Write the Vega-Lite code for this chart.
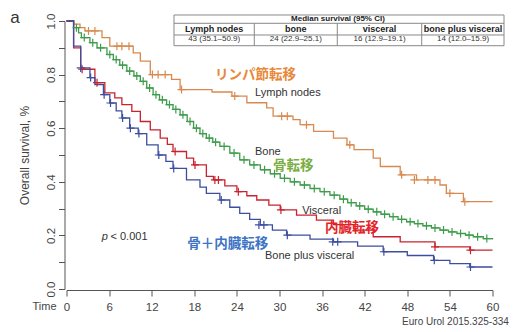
{
  "$schema": "https://vega.github.io/schema/vega-lite/v6.json",
  "width": 426,
  "height": 268,
  "autosize": {"type": "none"},
  "padding": {"left": 66.5, "top": 21, "right": 20.5, "bottom": 43},
  "background": "white",
  "config": {"view": {"stroke": null}, "font": "Liberation Sans"},
  "datasets": {
    "curves": [
      {"group": "Lymph nodes", "t": 0, "v": 1.0}, {"group": "Lymph nodes", "t": 1, "v": 0.988}, {"group": "Lymph nodes", "t": 1.9, "v": 0.975}, {"group": "Lymph nodes", "t": 2.6, "v": 0.963}, {"group": "Lymph nodes", "t": 5, "v": 0.938}, {"group": "Lymph nodes", "t": 6.1, "v": 0.906}, {"group": "Lymph nodes", "t": 9.4, "v": 0.881}, {"group": "Lymph nodes", "t": 10.4, "v": 0.85}, {"group": "Lymph nodes", "t": 11.8, "v": 0.8}, {"group": "Lymph nodes", "t": 14.8, "v": 0.782}, {"group": "Lymph nodes", "t": 16, "v": 0.744}, {"group": "Lymph nodes", "t": 20.5, "v": 0.735}, {"group": "Lymph nodes", "t": 23.3, "v": 0.72}, {"group": "Lymph nodes", "t": 25.4, "v": 0.695}, {"group": "Lymph nodes", "t": 28.2, "v": 0.676}, {"group": "Lymph nodes", "t": 29.1, "v": 0.645}, {"group": "Lymph nodes", "t": 31.9, "v": 0.632}, {"group": "Lymph nodes", "t": 32.9, "v": 0.613}, {"group": "Lymph nodes", "t": 34.8, "v": 0.588}, {"group": "Lymph nodes", "t": 37.6, "v": 0.563}, {"group": "Lymph nodes", "t": 39.5, "v": 0.538}, {"group": "Lymph nodes", "t": 40.5, "v": 0.52}, {"group": "Lymph nodes", "t": 43.2, "v": 0.488}, {"group": "Lymph nodes", "t": 44.2, "v": 0.457}, {"group": "Lymph nodes", "t": 47, "v": 0.426}, {"group": "Lymph nodes", "t": 49.3, "v": 0.407}, {"group": "Lymph nodes", "t": 52.6, "v": 0.388}, {"group": "Lymph nodes", "t": 53.5, "v": 0.357}, {"group": "Lymph nodes", "t": 55.9, "v": 0.326}, {"group": "Lymph nodes", "t": 60, "v": 0.326},
      {"group": "Bone", "t": 0, "v": 1.0}, {"group": "Bone", "t": 1, "v": 0.975}, {"group": "Bone", "t": 1.7, "v": 0.956}, {"group": "Bone", "t": 2.1, "v": 0.938}, {"group": "Bone", "t": 3.3, "v": 0.919}, {"group": "Bone", "t": 4.3, "v": 0.9}, {"group": "Bone", "t": 5.7, "v": 0.875}, {"group": "Bone", "t": 6.6, "v": 0.856}, {"group": "Bone", "t": 7.5, "v": 0.835}, {"group": "Bone", "t": 8.5, "v": 0.813}, {"group": "Bone", "t": 9.5, "v": 0.795}, {"group": "Bone", "t": 10.4, "v": 0.775}, {"group": "Bone", "t": 11.3, "v": 0.75}, {"group": "Bone", "t": 12.2, "v": 0.725}, {"group": "Bone", "t": 13.1, "v": 0.706}, {"group": "Bone", "t": 14.1, "v": 0.688}, {"group": "Bone", "t": 15, "v": 0.67}, {"group": "Bone", "t": 16, "v": 0.65}, {"group": "Bone", "t": 17, "v": 0.625}, {"group": "Bone", "t": 17.9, "v": 0.6}, {"group": "Bone", "t": 18.8, "v": 0.58}, {"group": "Bone", "t": 19.7, "v": 0.563}, {"group": "Bone", "t": 20.6, "v": 0.548}, {"group": "Bone", "t": 21.6, "v": 0.532}, {"group": "Bone", "t": 23, "v": 0.507}, {"group": "Bone", "t": 24.4, "v": 0.482}, {"group": "Bone", "t": 25.8, "v": 0.463}, {"group": "Bone", "t": 27.3, "v": 0.445}, {"group": "Bone", "t": 28.7, "v": 0.43}, {"group": "Bone", "t": 30.1, "v": 0.413}, {"group": "Bone", "t": 31.5, "v": 0.4}, {"group": "Bone", "t": 32.9, "v": 0.388}, {"group": "Bone", "t": 34.3, "v": 0.375}, {"group": "Bone", "t": 35.7, "v": 0.363}, {"group": "Bone", "t": 37.1, "v": 0.35}, {"group": "Bone", "t": 38.5, "v": 0.335}, {"group": "Bone", "t": 39.6, "v": 0.322}, {"group": "Bone", "t": 40.8, "v": 0.31}, {"group": "Bone", "t": 42, "v": 0.298}, {"group": "Bone", "t": 43.2, "v": 0.288}, {"group": "Bone", "t": 44.3, "v": 0.279}, {"group": "Bone", "t": 45.5, "v": 0.27}, {"group": "Bone", "t": 46.7, "v": 0.26}, {"group": "Bone", "t": 47.9, "v": 0.251}, {"group": "Bone", "t": 49, "v": 0.244}, {"group": "Bone", "t": 50.2, "v": 0.236}, {"group": "Bone", "t": 51.4, "v": 0.228}, {"group": "Bone", "t": 52.6, "v": 0.22}, {"group": "Bone", "t": 53.8, "v": 0.213}, {"group": "Bone", "t": 55, "v": 0.207}, {"group": "Bone", "t": 56.2, "v": 0.201}, {"group": "Bone", "t": 57.3, "v": 0.195}, {"group": "Bone", "t": 58.7, "v": 0.188}, {"group": "Bone", "t": 60, "v": 0.185},
      {"group": "Visceral", "t": 0, "v": 1.0}, {"group": "Visceral", "t": 1, "v": 0.9}, {"group": "Visceral", "t": 2, "v": 0.82}, {"group": "Visceral", "t": 4, "v": 0.77}, {"group": "Visceral", "t": 5.4, "v": 0.732}, {"group": "Visceral", "t": 6.8, "v": 0.713}, {"group": "Visceral", "t": 7.8, "v": 0.688}, {"group": "Visceral", "t": 9.2, "v": 0.663}, {"group": "Visceral", "t": 10.4, "v": 0.625}, {"group": "Visceral", "t": 11.8, "v": 0.594}, {"group": "Visceral", "t": 13.2, "v": 0.563}, {"group": "Visceral", "t": 14.2, "v": 0.54}, {"group": "Visceral", "t": 15, "v": 0.513}, {"group": "Visceral", "t": 16.9, "v": 0.488}, {"group": "Visceral", "t": 17.9, "v": 0.463}, {"group": "Visceral", "t": 19.7, "v": 0.42}, {"group": "Visceral", "t": 20.7, "v": 0.407}, {"group": "Visceral", "t": 22.3, "v": 0.385}, {"group": "Visceral", "t": 24, "v": 0.363}, {"group": "Visceral", "t": 25.4, "v": 0.348}, {"group": "Visceral", "t": 26.8, "v": 0.332}, {"group": "Visceral", "t": 28.5, "v": 0.313}, {"group": "Visceral", "t": 30.1, "v": 0.295}, {"group": "Visceral", "t": 32.4, "v": 0.276}, {"group": "Visceral", "t": 35.2, "v": 0.257}, {"group": "Visceral", "t": 37.6, "v": 0.24}, {"group": "Visceral", "t": 40.5, "v": 0.22}, {"group": "Visceral", "t": 43.2, "v": 0.195}, {"group": "Visceral", "t": 47, "v": 0.176}, {"group": "Visceral", "t": 51.9, "v": 0.157}, {"group": "Visceral", "t": 56.8, "v": 0.145}, {"group": "Visceral", "t": 60, "v": 0.145},
      {"group": "Bone plus visceral", "t": 0, "v": 1.0}, {"group": "Bone plus visceral", "t": 1, "v": 0.906}, {"group": "Bone plus visceral", "t": 2, "v": 0.825}, {"group": "Bone plus visceral", "t": 3.3, "v": 0.789}, {"group": "Bone plus visceral", "t": 4, "v": 0.763}, {"group": "Bone plus visceral", "t": 5.2, "v": 0.725}, {"group": "Bone plus visceral", "t": 6.1, "v": 0.694}, {"group": "Bone plus visceral", "t": 7, "v": 0.665}, {"group": "Bone plus visceral", "t": 7.8, "v": 0.638}, {"group": "Bone plus visceral", "t": 8.9, "v": 0.6}, {"group": "Bone plus visceral", "t": 10.1, "v": 0.58}, {"group": "Bone plus visceral", "t": 11.3, "v": 0.538}, {"group": "Bone plus visceral", "t": 12.9, "v": 0.5}, {"group": "Bone plus visceral", "t": 14, "v": 0.476}, {"group": "Bone plus visceral", "t": 15, "v": 0.45}, {"group": "Bone plus visceral", "t": 16.9, "v": 0.407}, {"group": "Bone plus visceral", "t": 18.8, "v": 0.38}, {"group": "Bone plus visceral", "t": 19.7, "v": 0.357}, {"group": "Bone plus visceral", "t": 21.6, "v": 0.332}, {"group": "Bone plus visceral", "t": 23, "v": 0.305}, {"group": "Bone plus visceral", "t": 24.4, "v": 0.282}, {"group": "Bone plus visceral", "t": 25.8, "v": 0.26}, {"group": "Bone plus visceral", "t": 27.3, "v": 0.239}, {"group": "Bone plus visceral", "t": 29, "v": 0.22}, {"group": "Bone plus visceral", "t": 31, "v": 0.201}, {"group": "Bone plus visceral", "t": 34.3, "v": 0.186}, {"group": "Bone plus visceral", "t": 37.6, "v": 0.176}, {"group": "Bone plus visceral", "t": 41, "v": 0.16}, {"group": "Bone plus visceral", "t": 44.6, "v": 0.139}, {"group": "Bone plus visceral", "t": 48, "v": 0.125}, {"group": "Bone plus visceral", "t": 51.7, "v": 0.107}, {"group": "Bone plus visceral", "t": 54, "v": 0.095}, {"group": "Bone plus visceral", "t": 56.8, "v": 0.082}, {"group": "Bone plus visceral", "t": 60, "v": 0.082}
    ],
    "censor": [
      {"group": "Lymph nodes", "t": 3.1, "v": 0.963}, {"group": "Lymph nodes", "t": 4, "v": 0.963}, {"group": "Lymph nodes", "t": 7.1, "v": 0.906}, {"group": "Lymph nodes", "t": 7.8, "v": 0.906}, {"group": "Lymph nodes", "t": 8.8, "v": 0.906}, {"group": "Lymph nodes", "t": 12.1, "v": 0.8}, {"group": "Lymph nodes", "t": 12.9, "v": 0.8}, {"group": "Lymph nodes", "t": 13.9, "v": 0.8}, {"group": "Lymph nodes", "t": 16.2, "v": 0.744}, {"group": "Lymph nodes", "t": 23.7, "v": 0.72}, {"group": "Lymph nodes", "t": 30.3, "v": 0.645}, {"group": "Lymph nodes", "t": 31.1, "v": 0.645}, {"group": "Lymph nodes", "t": 33.8, "v": 0.613}, {"group": "Lymph nodes", "t": 39.9, "v": 0.538}, {"group": "Lymph nodes", "t": 47.2, "v": 0.426}, {"group": "Lymph nodes", "t": 49.0, "v": 0.407}, {"group": "Lymph nodes", "t": 50.9, "v": 0.407}, {"group": "Lymph nodes", "t": 51.9, "v": 0.407}, {"group": "Lymph nodes", "t": 54, "v": 0.357}, {"group": "Lymph nodes", "t": 56.1, "v": 0.326},
      {"group": "Bone", "t": 1.4, "v": 0.975}, {"group": "Bone", "t": 2.5, "v": 0.938}, {"group": "Bone", "t": 3.7, "v": 0.919}, {"group": "Bone", "t": 4.8, "v": 0.9}, {"group": "Bone", "t": 6.1, "v": 0.875}, {"group": "Bone", "t": 7.0, "v": 0.856}, {"group": "Bone", "t": 7.9, "v": 0.835}, {"group": "Bone", "t": 8.9, "v": 0.813}, {"group": "Bone", "t": 9.9, "v": 0.795}, {"group": "Bone", "t": 10.8, "v": 0.775}, {"group": "Bone", "t": 11.7, "v": 0.75}, {"group": "Bone", "t": 12.6, "v": 0.725}, {"group": "Bone", "t": 13.5, "v": 0.706}, {"group": "Bone", "t": 14.5, "v": 0.688}, {"group": "Bone", "t": 15.4, "v": 0.67}, {"group": "Bone", "t": 16.4, "v": 0.65}, {"group": "Bone", "t": 17.4, "v": 0.625}, {"group": "Bone", "t": 18.3, "v": 0.6}, {"group": "Bone", "t": 19.2, "v": 0.58}, {"group": "Bone", "t": 20.1, "v": 0.563}, {"group": "Bone", "t": 21.0, "v": 0.548}, {"group": "Bone", "t": 22.2, "v": 0.532}, {"group": "Bone", "t": 23.6, "v": 0.507}, {"group": "Bone", "t": 25.0, "v": 0.482}, {"group": "Bone", "t": 26.4, "v": 0.463}, {"group": "Bone", "t": 27.9, "v": 0.445}, {"group": "Bone", "t": 29.3, "v": 0.43}, {"group": "Bone", "t": 30.7, "v": 0.413}, {"group": "Bone", "t": 32.1, "v": 0.4}, {"group": "Bone", "t": 33.5, "v": 0.388}, {"group": "Bone", "t": 34.9, "v": 0.375}, {"group": "Bone", "t": 36.3, "v": 0.363}, {"group": "Bone", "t": 37.7, "v": 0.35}, {"group": "Bone", "t": 39.0, "v": 0.335}, {"group": "Bone", "t": 40.1, "v": 0.322}, {"group": "Bone", "t": 41.3, "v": 0.31}, {"group": "Bone", "t": 42.5, "v": 0.298}, {"group": "Bone", "t": 43.7, "v": 0.288}, {"group": "Bone", "t": 44.8, "v": 0.279}, {"group": "Bone", "t": 46.0, "v": 0.27}, {"group": "Bone", "t": 47.2, "v": 0.26}, {"group": "Bone", "t": 48.4, "v": 0.251}, {"group": "Bone", "t": 49.5, "v": 0.244}, {"group": "Bone", "t": 50.7, "v": 0.236}, {"group": "Bone", "t": 51.9, "v": 0.228}, {"group": "Bone", "t": 53.1, "v": 0.22}, {"group": "Bone", "t": 54.3, "v": 0.213}, {"group": "Bone", "t": 55.5, "v": 0.207}, {"group": "Bone", "t": 56.7, "v": 0.201}, {"group": "Bone", "t": 57.9, "v": 0.195}, {"group": "Bone", "t": 59.2, "v": 0.188},
      {"group": "Visceral", "t": 2.2, "v": 0.82}, {"group": "Visceral", "t": 4.3, "v": 0.77}, {"group": "Visceral", "t": 15.3, "v": 0.513}, {"group": "Visceral", "t": 18.1, "v": 0.463}, {"group": "Visceral", "t": 20.9, "v": 0.407}, {"group": "Visceral", "t": 21.4, "v": 0.407}, {"group": "Visceral", "t": 24.2, "v": 0.363}, {"group": "Visceral", "t": 30.2, "v": 0.295}, {"group": "Visceral", "t": 51.9, "v": 0.157}, {"group": "Visceral", "t": 56.9, "v": 0.145},
      {"group": "Bone plus visceral", "t": 2, "v": 0.825}, {"group": "Bone plus visceral", "t": 3.4, "v": 0.789}, {"group": "Bone plus visceral", "t": 5.3, "v": 0.725}, {"group": "Bone plus visceral", "t": 6.2, "v": 0.694}, {"group": "Bone plus visceral", "t": 7.9, "v": 0.638}, {"group": "Bone plus visceral", "t": 9.0, "v": 0.6}, {"group": "Bone plus visceral", "t": 10.2, "v": 0.58}, {"group": "Bone plus visceral", "t": 13.0, "v": 0.5}, {"group": "Bone plus visceral", "t": 15.1, "v": 0.45}, {"group": "Bone plus visceral", "t": 21.8, "v": 0.332}, {"group": "Bone plus visceral", "t": 27.1, "v": 0.239}, {"group": "Bone plus visceral", "t": 27.8, "v": 0.239}, {"group": "Bone plus visceral", "t": 31.1, "v": 0.201}, {"group": "Bone plus visceral", "t": 37.5, "v": 0.176}, {"group": "Bone plus visceral", "t": 38.2, "v": 0.176}, {"group": "Bone plus visceral", "t": 44.7, "v": 0.139}, {"group": "Bone plus visceral", "t": 51.8, "v": 0.107}, {"group": "Bone plus visceral", "t": 56.9, "v": 0.082}
    ],
    "jp": [
      {"group": "Lymph nodes", "label": "リンパ節転移", "t": 20.9, "v": 0.8},
      {"group": "Bone", "label": "骨転移", "t": 29.1, "v": 0.459},
      {"group": "Visceral", "label": "内臓転移", "t": 36.4, "v": 0.226},
      {"group": "Bone plus visceral", "label": "骨＋内臓転移", "t": 17.0, "v": 0.168}
    ],
    "en": [
      {"label": "Lymph nodes", "t": 26.55, "v": 0.733},
      {"label": "Bone", "t": 26.55, "v": 0.513},
      {"label": "Visceral", "t": 33.2, "v": 0.291},
      {"label": "Bone plus visceral", "t": 27.96, "v": 0.123}
    ],
    "tablebox": [{"t1": 15.14, "t2": 61.62, "v1": 1.0224, "v2": 0.9078}],
    "tablelines": [
      {"t1": 15.14, "t2": 61.62, "v1": 0.9914, "v2": 0.9914},
      {"t1": 15.14, "t2": 61.62, "v1": 0.9478, "v2": 0.9478},
      {"t1": 26.45, "t2": 26.45, "v1": 0.9914, "v2": 0.9078},
      {"t1": 38.14, "t2": 38.14, "v1": 0.9914, "v2": 0.9078},
      {"t1": 50.03, "t2": 50.03, "v1": 0.9914, "v2": 0.9078}
    ],
    "tabletitle": [{"label": "Median survival (95% CI)", "t": 38.23, "v": 1.0063}],
    "tablehead": [
      {"label": "Lymph nodes", "t": 20.8, "v": 0.9701},
      {"label": "bone", "t": 32.3, "v": 0.9701},
      {"label": "visceral", "t": 44.1, "v": 0.9701},
      {"label": "bone plus visceral", "t": 55.85, "v": 0.9701}
    ],
    "tablevals": [
      {"label": "43 (35.1–50.9)", "t": 20.8, "v": 0.9317},
      {"label": "24 (22.9–25.1)", "t": 32.3, "v": 0.9317},
      {"label": "16 (12.9–19.1)", "t": 44.1, "v": 0.9317},
      {"label": "14 (12.0–15.9)", "t": 55.85, "v": 0.9317}
    ]
  },
  "encoding": {
    "x": {"field": "t", "type": "quantitative", "scale": {"domain": [0, 60], "nice": false, "zero": false},
      "axis": {"values": [0, 6, 12, 18, 24, 30, 36, 42, 48, 54, 60], "title": null, "grid": false, "domainColor": "#555", "tickColor": "#555", "tickSize": 6, "labelPadding": 5, "labelFontSize": 11.5, "labelColor": "#444", "labelFont": "Liberation Sans", "offset": 1, "labelFlush": false}},
    "y": {"field": "v", "type": "quantitative", "scale": {"domain": [0, 1], "nice": false, "zero": false},
      "axis": {"values": [0, 0.1, 0.2, 0.3, 0.4, 0.5, 0.6, 0.7, 0.8, 0.9, 1.0], "labelExpr": "round(datum.value*10)%2==0 ? format(datum.value,'.1f') : ''", "title": "Overall survival, %", "titleFontSize": 12, "titleFontWeight": "normal", "titleColor": "#444", "titleFont": "Liberation Sans", "titlePadding": 14, "grid": false, "domainColor": "#555", "tickColor": "#555", "tickSize": 6, "labelAngle": -90, "labelAlign": "center", "labelBaseline": "bottom", "labelPadding": 2, "labelFontSize": 11.5, "labelColor": "#444", "offset": 2, "labelFlush": false}}
  },
  "layer": [
    {"data": {"name": "tablebox"}, "mark": {"type": "rect", "fill": "white", "stroke": "#888", "strokeWidth": 1},
      "encoding": {"x": {"field": "t1", "type": "quantitative"}, "x2": {"field": "t2"}, "y": {"field": "v1", "type": "quantitative"}, "y2": {"field": "v2"}}},
    {"data": {"name": "tablelines"}, "mark": {"type": "rule", "stroke": "#888", "strokeWidth": 1},
      "encoding": {"x": {"field": "t1", "type": "quantitative"}, "x2": {"field": "t2"}, "y": {"field": "v1", "type": "quantitative"}, "y2": {"field": "v2"}}},
    {"data": {"name": "tabletitle"}, "mark": {"type": "text", "fontSize": 8, "fontWeight": "bold", "color": "#222", "align": "center", "baseline": "middle", "font": "Liberation Sans"},
      "encoding": {"text": {"field": "label"}}},
    {"data": {"name": "tablehead"}, "mark": {"type": "text", "fontSize": 9, "fontWeight": "bold", "color": "#222", "align": "center", "baseline": "middle", "font": "Liberation Sans"},
      "encoding": {"text": {"field": "label"}}},
    {"data": {"name": "tablevals"}, "mark": {"type": "text", "fontSize": 8, "color": "#333", "align": "center", "baseline": "middle", "font": "Liberation Sans"},
      "encoding": {"text": {"field": "label"}}},
    {"data": {"name": "curves"}, "mark": {"type": "line", "interpolate": "step-after", "strokeWidth": 1.3},
      "encoding": {"color": {"field": "group", "type": "nominal", "legend": null, "scale": {"domain": ["Lymph nodes", "Bone", "Visceral", "Bone plus visceral"], "range": ["#d8894f", "#3e9c4b", "#c8232f", "#3e4e9e"]}}}},
    {"data": {"name": "censor"}, "mark": {"type": "point", "shape": "M-1,0H1M0,-1V1", "filled": false, "size": 64, "strokeWidth": 1.2, "opacity": 1},
      "encoding": {"color": {"field": "group", "type": "nominal", "legend": null, "scale": {"domain": ["Lymph nodes", "Bone", "Visceral", "Bone plus visceral"], "range": ["#d8894f", "#3e9c4b", "#c8232f", "#3e4e9e"]}}}},
    {"data": {"name": "jp"}, "mark": {"type": "text", "fontSize": 13.5, "fontWeight": "bold", "align": "left", "baseline": "middle", "font": "Noto Sans CJK JP"},
      "encoding": {"text": {"field": "label"}, "color": {"field": "group", "type": "nominal", "legend": null, "scale": {"domain": ["Lymph nodes", "Bone", "Visceral", "Bone plus visceral"], "range": ["#e8883a", "#7aae42", "#e42428", "#3d73c4"]}}}},
    {"data": {"name": "en"}, "mark": {"type": "text", "fontSize": 11, "color": "#333", "align": "left", "baseline": "middle", "font": "Liberation Sans"},
      "encoding": {"text": {"field": "label"}}},
    {"data": {"values": [{"label": "p", "t": 4.96, "v": 0.195}]}, "mark": {"type": "text", "fontSize": 11, "fontStyle": "italic", "color": "#333", "align": "left", "baseline": "middle", "font": "Liberation Sans"},
      "encoding": {"text": {"field": "label"}}},
    {"data": {"values": [{"label": "< 0.001", "t": 6.2, "v": 0.195}]}, "mark": {"type": "text", "fontSize": 11, "color": "#333", "align": "left", "baseline": "middle", "font": "Liberation Sans"},
      "encoding": {"text": {"field": "label"}}},
    {"data": {"values": [{"label": "a", "t": -7.25, "v": 1.011}]}, "mark": {"type": "text", "fontSize": 17, "color": "#333", "align": "center", "baseline": "middle", "font": "Liberation Sans"},
      "encoding": {"text": {"field": "label"}}},
    {"data": {"values": [{"label": "Time", "t": -1.4, "v": -0.069}]}, "mark": {"type": "text", "fontSize": 11, "color": "#444", "align": "right", "baseline": "middle", "font": "Liberation Sans"},
      "encoding": {"text": {"field": "label"}}},
    {"data": {"values": [{"label": "Euro Urol 2015.325-334", "t": 62.3, "v": -0.123}]}, "mark": {"type": "text", "fontSize": 10, "color": "#444", "align": "right", "baseline": "middle", "font": "Liberation Sans"},
      "encoding": {"text": {"field": "label"}}}
  ],
  "resolve": {"scale": {"color": "independent"}}
}
